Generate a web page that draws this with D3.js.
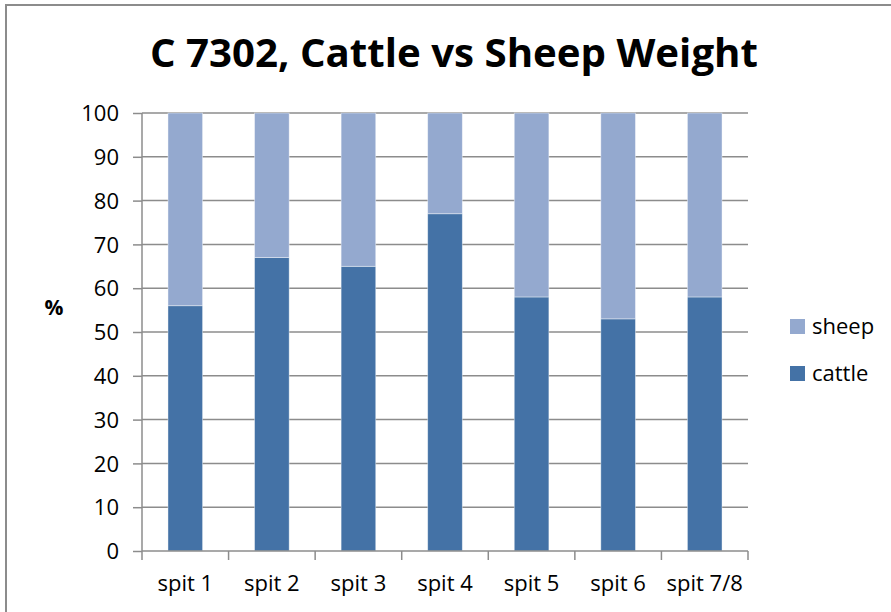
<!DOCTYPE html>
<html>
<head>
<meta charset="utf-8">
<script src="https://cdn.jsdelivr.net/npm/d3@7"></script>
<style>
  body { margin: 0; background: #fff; }
  text { font-family: "Open Sans", "Liberation Sans", sans-serif; fill: #000; }
</style>
</head>
<body>
<script>
const categories = ['spit 1', 'spit 2', 'spit 3', 'spit 4', 'spit 5', 'spit 6', 'spit 7/8'];
const cattle = [56, 67, 65, 77, 58, 53, 58];
const sheep = [44, 33, 35, 23, 42, 47, 42];
const yTicks = [0, 10, 20, 30, 40, 50, 60, 70, 80, 90, 100];
const seriesNames = ['cattle', 'sheep'];
const colors = { cattle: '#4472a6', sheep: '#94a9cf' };

const width = 891, height = 612;
const plot = { left: 142, right: 748, top: 113, bottom: 551 };

const svg = d3.select('body').append('svg')
  .attr('width', width)
  .attr('height', height);

// outer chart border
svg.append('rect')
  .attr('x', 6).attr('y', 5)
  .attr('width', 920).attr('height', 640)
  .attr('fill', 'none')
  .attr('stroke', '#8c8c8c')
  .attr('stroke-width', 2);

const x = d3.scaleBand()
  .domain(categories)
  .range([plot.left, plot.right])
  .paddingInner(0.6)
  .paddingOuter(0.3);

const y = d3.scaleLinear()
  .domain([0, 100])
  .range([plot.bottom, plot.top]);

// gridlines
svg.append('g')
  .selectAll('line')
  .data(yTicks.filter(d => d > 0))
  .enter().append('line')
  .attr('x1', plot.left).attr('x2', plot.right)
  .attr('y1', d => y(d)).attr('y2', d => y(d))
  .attr('stroke', '#8c8c8c')
  .attr('stroke-width', 1.5);

// stacked bars
const rows = categories.map((c, i) => ({ cat: c, cattle: cattle[i], sheep: sheep[i] }));
const stack = d3.stack().keys(seriesNames)(rows);

svg.append('g')
  .selectAll('g')
  .data(stack)
  .enter().append('g')
  .attr('fill', d => colors[d.key])
  .selectAll('rect')
  .data(d => d)
  .enter().append('rect')
  .attr('x', d => x(d.data.cat))
  .attr('width', x.bandwidth())
  .attr('y', d => y(d[1]))
  .attr('height', d => y(d[0]) - y(d[1]))
  .attr('stroke', '#ffffff')
  .attr('stroke-opacity', 0.5)
  .attr('stroke-width', 0.8);

// y axis
const yAxis = svg.append('g')
  .attr('transform', `translate(${plot.left},0)`)
  .call(d3.axisLeft(y).tickValues(yTicks).tickSize(9).tickPadding(14).tickFormat(d3.format('d')));
yAxis.select('.domain').attr('stroke', '#8c8c8c').attr('stroke-width', 1.5).attr('d', `M0,${plot.top}V${plot.bottom}`);
yAxis.selectAll('.tick line').attr('stroke', '#8c8c8c').attr('stroke-width', 1.5);
yAxis.selectAll('.tick text')
  .style('font-family', '"Open Sans", sans-serif')
  .style('font-size', '22px')
  .attr('dy', '0.35em')
  .attr('fill', '#000');

// x axis with boundary ticks
const xg = svg.append('g')
  .attr('transform', `translate(0,${plot.bottom})`);
xg.append('line')
  .attr('x1', plot.left).attr('x2', plot.right)
  .attr('stroke', '#8c8c8c').attr('stroke-width', 1.5);
const bounds = d3.range(categories.length + 1).map(i => plot.left + i * x.step());
xg.selectAll('.bt')
  .data(bounds)
  .enter().append('line')
  .attr('class', 'bt')
  .attr('x1', d => d).attr('x2', d => d)
  .attr('y1', 0).attr('y2', 9)
  .attr('stroke', '#8c8c8c').attr('stroke-width', 1.5);
xg.selectAll('text')
  .data(categories)
  .enter().append('text')
  .attr('x', d => x(d) + x.bandwidth() / 2)
  .attr('y', 40)
  .attr('text-anchor', 'middle')
  .style('font-size', '22px')
  .text(d => d);

// y axis title
svg.append('text')
  .attr('x', 54).attr('y', 315)
  .attr('text-anchor', 'middle')
  .style('font-size', '21px')
  .style('font-weight', 'bold')
  .text('%');

// title
svg.append('text')
  .attr('x', 454).attr('y', 67)
  .attr('text-anchor', 'middle')
  .style('font-size', '39px')
  .style('font-weight', 'bold')
  .attr('textLength', 608)
  .attr('lengthAdjust', 'spacingAndGlyphs')
  .text('C 7302, Cattle vs Sheep Weight');

// legend
const legend = svg.append('g');
const legendItems = ['sheep', 'cattle'];
legendItems.forEach((k, i) => {
  const ly = 319 + i * 47;
  legend.append('rect')
    .attr('x', 790).attr('y', ly)
    .attr('width', 15).attr('height', 15)
    .attr('fill', colors[k]);
  legend.append('text')
    .attr('x', 812).attr('y', ly + 15)
    .style('font-size', '22px')
    .text(k);
});
</script>
</body>
</html>
